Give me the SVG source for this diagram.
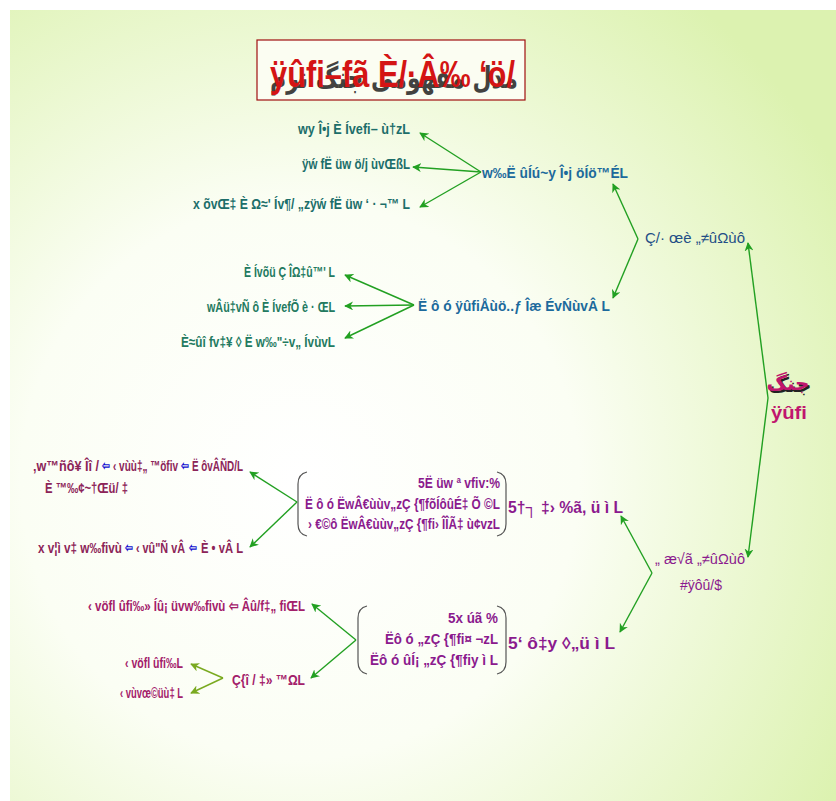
<svg xmlns="http://www.w3.org/2000/svg" width="836" height="801" viewBox="0 0 836 801">
<defs>
<radialGradient id="bg" cx="300" cy="480" r="620" gradientUnits="userSpaceOnUse">
<stop offset="0" stop-color="#ffffff"/>
<stop offset="0.45" stop-color="#fbfef4"/>
<stop offset="1" stop-color="#dcf2b0"/>
</radialGradient>
<marker id="ah" viewBox="0 0 10 10" refX="9" refY="5" markerWidth="9" markerHeight="9" markerUnits="userSpaceOnUse" orient="auto">
<path d="M0,0 L10,5 L0,10 L3,5 Z" fill="#22a022"/>
</marker>
<marker id="ay" viewBox="0 0 10 10" refX="9" refY="5" markerWidth="9" markerHeight="9" markerUnits="userSpaceOnUse" orient="auto">
<path d="M0,0 L10,5 L0,10 L3,5 Z" fill="#7aaa20"/>
</marker>
</defs>
<style>
text{font-family:"Liberation Sans",Arial,sans-serif;font-weight:bold;font-size:15px}
.teal{fill:#1c6e6a}
.grn{fill:#237a60}
.blue{fill:#1c6a9c}
.navy{fill:#234e86}
.pur{fill:#8b1a8e}
.mar{fill:#8c2458}
.mag{fill:#a3206a}
.arr{fill:#1010d0;font-size:13px}
.c{fill:none;stroke:#22a022;stroke-width:1.4}
.cy{fill:none;stroke:#7aaa20;stroke-width:1.4}
.br{fill:none;stroke:#555;stroke-width:1.2}
</style>
<rect x="0" y="0" width="836" height="801" fill="#ffffff"/>
<rect x="10" y="10" width="826" height="791" fill="url(#bg)"/>

<g id="title">
<rect x="257" y="40" width="268" height="60" fill="#fbfdf2" stroke="#a01010" stroke-width="1.2"/>
<text x="394" y="88" text-anchor="middle" textLength="248" lengthAdjust="spacingAndGlyphs" style="font-family:'DejaVu Sans',sans-serif;font-size:30px;font-weight:bold" fill="#222" opacity="0.85">مدل مفهومی جنگ نرم</text>
<text x="270" y="87" textLength="245" lengthAdjust="spacingAndGlyphs" style="font-size:36px" fill="#d41414">ÿûfi–fã È/·Â‰ ‘ö/</text>
</g>

<g id="n-top1"><text class="teal" x="410" y="134" text-anchor="end" textLength="112" lengthAdjust="spacingAndGlyphs">wy Î•j È Ívefi– ù†zL</text></g>
<g id="n-top2"><text class="teal" x="410" y="169" text-anchor="end" textLength="108" lengthAdjust="spacingAndGlyphs">ÿẃ fË üw ö/j ùvŒßL</text></g>
<g id="n-top3"><text class="teal" x="410" y="209" text-anchor="end" textLength="217" lengthAdjust="spacingAndGlyphs">x õvŒ‡ È Ω≈' Ív¶/ „zÿẃ fË üw ‘ · ¬™ L</text></g>

<g id="n-A"><text class="blue" x="628" y="178" text-anchor="end" textLength="146" lengthAdjust="spacingAndGlyphs">w‰Ë ûÍú~y Î•j öÍö™ÉL</text></g>
<g id="n-B"><text class="navy" x="745" y="243" text-anchor="end" textLength="100" lengthAdjust="spacingAndGlyphs" style="font-weight:normal">Ç/· œè „≠ûΩùô</text></g>

<g id="n-mid1"><text class="grn" x="335" y="277" text-anchor="end" textLength="91" lengthAdjust="spacingAndGlyphs">È Ívõü Ç ÎΩ‡û™' L</text></g>
<g id="n-mid2"><text class="grn" x="335" y="312" text-anchor="end" textLength="128" lengthAdjust="spacingAndGlyphs">wÂü‡vÑ ô È ÍvefÕ è · ŒL</text></g>
<g id="n-mid3"><text class="grn" x="335" y="347" text-anchor="end" textLength="154" lengthAdjust="spacingAndGlyphs">È≈ûî fv‡¥ ◊ Ë w‰"÷v„ ÍvùvL</text></g>

<g id="n-C"><text class="blue" x="610" y="311" text-anchor="end" textLength="192" lengthAdjust="spacingAndGlyphs">Ë ô ó ÿûfiÅùö..ƒ Îæ ÉvŃùvÂ L</text></g>

<g id="n-root">
<text x="790" y="392" text-anchor="middle" style="font-family:'DejaVu Sans',sans-serif;font-size:20px" fill="#222">جنگ</text>
<text x="788" y="390" text-anchor="middle" style="font-family:'DejaVu Sans',sans-serif;font-size:20px" fill="#c0166e">جنگ</text>
<text x="789" y="419" text-anchor="middle" textLength="36" lengthAdjust="spacingAndGlyphs" style="font-size:18px" fill="#c0166e">ÿûfi</text>
</g>

<g id="n-br1">
<path class="br" d="M307,472 Q298,474 298,484 L298,524 Q298,534 307,536"/>
<path class="br" d="M497,472 Q506,474 506,484 L506,524 Q506,534 497,536"/>
<text class="pur" x="500" y="488" text-anchor="end" textLength="82" lengthAdjust="spacingAndGlyphs">5Ë üw ª vfiv:%</text>
<text class="pur" x="500" y="509" text-anchor="end" textLength="195" lengthAdjust="spacingAndGlyphs">Ë ô ó ËwÂ€ùùv„zÇ {¶fõÍôûÉ‡ Õ ©L</text>
<text class="pur" x="500" y="529" text-anchor="end" textLength="192" lengthAdjust="spacingAndGlyphs">› €©ô ËwÂ€ùùv„zÇ {¶fi› ÎÎÃ‡ ù¢vzL</text>
</g>

<g id="n-D"><text class="pur" x="623" y="513" text-anchor="end" textLength="115" lengthAdjust="spacingAndGlyphs" style="font-size:17px">5†┐ ‡› %ã, ü ì L</text></g>

<g id="n-E">
<text class="pur" x="745" y="564" text-anchor="end" textLength="90" lengthAdjust="spacingAndGlyphs" style="font-weight:normal">„ æ√ã „≠ûΩùô</text>
<text class="pur" x="701" y="590" text-anchor="middle" textLength="42" lengthAdjust="spacingAndGlyphs" style="font-weight:normal">#ÿôû/$</text>
</g>

<g id="n-left1">
<text class="mar" x="33" y="471" textLength="66" lengthAdjust="spacingAndGlyphs">‚w™ñô¥ Îî /</text>
<text class="arr" x="102" y="470" textLength="8" lengthAdjust="spacingAndGlyphs">⇦</text>
<text class="mar" x="113" y="471" textLength="65" lengthAdjust="spacingAndGlyphs">‹ vùù‡„ ™öfiv</text>
<text class="arr" x="181" y="470" textLength="8" lengthAdjust="spacingAndGlyphs">⇦</text>
<text class="mar" x="192" y="471" textLength="51" lengthAdjust="spacingAndGlyphs">Ë ôvÂÑD/L</text>
<text class="mar" x="45" y="493" textLength="83" lengthAdjust="spacingAndGlyphs">È ™‰¢~†Œü/ ‡</text>
</g>
<g id="n-left2">
<text class="mar" x="38" y="553" textLength="84" lengthAdjust="spacingAndGlyphs">x v¦ì v‡ w‰fivù</text>
<text class="arr" x="125" y="552" textLength="8" lengthAdjust="spacingAndGlyphs">⇦</text>
<text class="mar" x="136" y="553" textLength="49" lengthAdjust="spacingAndGlyphs">‹ vû"Ñ vÂ</text>
<text class="arr" x="189" y="552" textLength="8" lengthAdjust="spacingAndGlyphs">⇦</text>
<text class="mar" x="201" y="553" textLength="42" lengthAdjust="spacingAndGlyphs">È • vÂ L</text>
</g>

<g id="n-br2">
<path class="br" d="M367,606 Q358,608 358,618 L358,662 Q358,672 367,674"/>
<path class="br" d="M497,606 Q506,608 506,618 L506,662 Q506,672 497,674"/>
<text class="pur" x="498" y="623" text-anchor="end" textLength="50" lengthAdjust="spacingAndGlyphs">5x úã %</text>
<text class="pur" x="498" y="644" text-anchor="end" textLength="113" lengthAdjust="spacingAndGlyphs">Ëô ó „zÇ {¶fi¤ ¬zL</text>
<text class="pur" x="498" y="665" text-anchor="end" textLength="128" lengthAdjust="spacingAndGlyphs">Ëô ó ûÍ¡ „zÇ {¶fiy ì L</text>
</g>

<g id="n-F"><text class="pur" x="615" y="649" text-anchor="end" textLength="107" lengthAdjust="spacingAndGlyphs" style="font-size:17px">5‘ ô‡y ◊„ü ì L</text></g>

<g id="n-low1"><text class="mag" x="305" y="611" text-anchor="end" textLength="217" lengthAdjust="spacingAndGlyphs">‹ vöfl ûfi‰» Íû¡ üvw‰fivù ⇦ Âû/f‡„ fiŒL</text></g>
<g id="n-low2"><text class="mag" x="305" y="685" text-anchor="end" textLength="73" lengthAdjust="spacingAndGlyphs">Ç{î / ‡» ™ΩL</text></g>
<g id="n-low3"><text class="mag" x="183" y="668" text-anchor="end" textLength="58" lengthAdjust="spacingAndGlyphs">‹ vöfl ûfi‰L</text></g>
<g id="n-low4"><text class="mag" x="183" y="698" text-anchor="end" textLength="63" lengthAdjust="spacingAndGlyphs">‹ vùvœ©üù‡ L</text></g>

<g id="connectors">
<line class="c" x1="768" y1="398" x2="748" y2="243" marker-end="url(#ah)"/>
<line class="c" x1="768" y1="398" x2="748" y2="557" marker-end="url(#ah)"/>
<line class="c" x1="638" y1="239" x2="613" y2="184" marker-end="url(#ah)"/>
<line class="c" x1="638" y1="239" x2="613" y2="298" marker-end="url(#ah)"/>
<line class="c" x1="481" y1="172" x2="420" y2="133" marker-end="url(#ah)"/>
<line class="c" x1="481" y1="172" x2="413" y2="167" marker-end="url(#ah)"/>
<line class="c" x1="481" y1="172" x2="420" y2="207" marker-end="url(#ah)"/>
<line class="c" x1="414" y1="305" x2="345" y2="275" marker-end="url(#ah)"/>
<line class="c" x1="414" y1="305" x2="345" y2="306" marker-end="url(#ah)"/>
<line class="c" x1="414" y1="305" x2="345" y2="338" marker-end="url(#ah)"/>
<line class="c" x1="652" y1="573" x2="621" y2="516" marker-end="url(#ah)"/>
<line class="c" x1="652" y1="573" x2="620" y2="632" marker-end="url(#ah)"/>
<line class="c" x1="297" y1="502" x2="250" y2="472" marker-end="url(#ah)"/>
<line class="c" x1="297" y1="502" x2="250" y2="547" marker-end="url(#ah)"/>
<line class="c" x1="356" y1="640" x2="312" y2="604" marker-end="url(#ah)"/>
<line class="c" x1="356" y1="640" x2="311" y2="678" marker-end="url(#ah)"/>
<line class="cy" x1="223" y1="678" x2="191" y2="664" marker-end="url(#ay)"/>
<line class="cy" x1="223" y1="678" x2="191" y2="693" marker-end="url(#ay)"/>
</g>
</svg>
